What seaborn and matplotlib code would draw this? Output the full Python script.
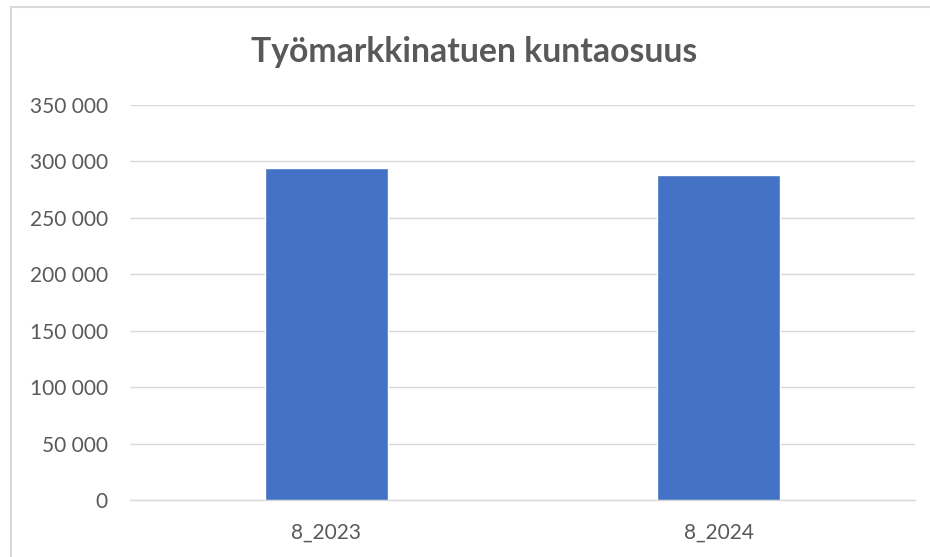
import matplotlib
matplotlib.use("Agg")
import matplotlib.pyplot as plt
import seaborn as sns
import pandas as pd
from matplotlib.patches import Rectangle
from matplotlib.ticker import FuncFormatter, MultipleLocator

categories = ["8_2023", "8_2024"]
values = [294400, 288200]
title = "Työmarkkinatuen kuntaosuus"

sns.set_theme(style="white")
plt.rcParams['font.family'] = ['Lato', 'DejaVu Sans']

W, H = 930, 557
fig = plt.figure(figsize=(W / 100, H / 100), dpi=100)
fig.patch.set_facecolor("white")

# outer chart frame
fig.patches.append(Rectangle((11 / W, -0.1), 1.2, 1 - 7 / H + 0.1, transform=fig.transFigure,
                             fill=False, edgecolor="#D9D9D9", linewidth=1.5, zorder=0))

ax = fig.add_axes([130 / W, 1 - 500 / H, (915 - 130) / W, (500 - 105) / H])
df = pd.DataFrame({"cat": categories, "val": values})
sns.barplot(data=df, x="cat", y="val", color="#4472C4", saturation=1, width=0.313, ax=ax, zorder=3)

ax.set_xlim(-0.5, 1.5)
ax.set_ylim(0, 350000)
ax.yaxis.set_major_locator(MultipleLocator(50000))
ax.yaxis.set_major_formatter(FuncFormatter(lambda v, p: f"{int(v):,}".replace(",", " ")))
ax.grid(axis="y", color="#D9D9D9", linewidth=1.0, zorder=0)
ax.set_axisbelow(True)
for s in ["top", "right", "left"]:
    ax.spines[s].set_visible(False)
ax.spines["bottom"].set_color("#D9D9D9")
ax.spines["bottom"].set_linewidth(1.0)
ax.set_xlabel("")
ax.set_ylabel("")
ax.tick_params(axis="y", length=0, pad=16, labelsize=15, labelcolor="#595959")
ax.tick_params(axis="x", length=0, pad=16, labelsize=15, labelcolor="#595959")

fig.text(474.5 / W, 1 - 62 / H, title, ha="center", va="baseline", fontsize=24.3,
         fontweight="bold", color="#595959")

fig.savefig("out.png", dpi=100, facecolor="white")
